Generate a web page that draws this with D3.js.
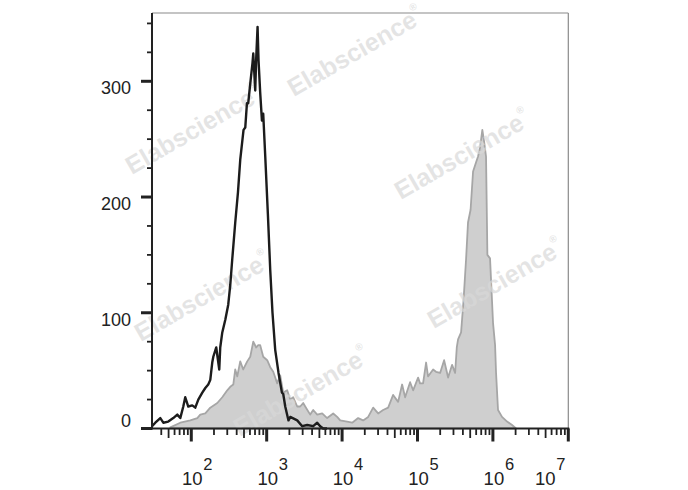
<!DOCTYPE html>
<html><head><meta charset="utf-8">
<script src="https://cdn.jsdelivr.net/npm/d3@7"></script>
<style>body{margin:0;background:#fff}svg{display:block}</style>
</head><body><svg id="c" width="688" height="490"></svg>
<script>
// log10 of fluorescence intensity and event counts
const blackLg = [1.48,1.523,1.589,1.629,1.695,1.761,1.814,1.854,1.894,1.920,1.960,2.013,2.053,2.093,2.146,2.186,2.225,2.252,2.278,2.292,2.331,2.371,2.384,2.411,2.451,2.490,2.517,2.543,2.583,2.619,2.649,2.693,2.716,2.738,2.755,2.782,2.812,2.822,2.848,2.861,2.879,2.892,2.914,2.937,2.954,2.981,3.016,3.047,3.077,3.113,3.157,3.202,3.219,3.246,3.289,3.312,3.405,3.471,3.537,3.617,3.670,3.709,3.749,3.80];
const blackCount = [2,5,9,5,6,9,12,9,19,27,19,20,18,25,31,35,38,42,57,62,70,51,70,83,94,107,124,146,178,204,232,258,260,281,281,298,316,324,292,320,347,318,290,266,272,235,185,137,100,68,48,31,30,19,7,10,7,2,3,2,5,2,0,0];
const grayLg = [1.722,1.854,1.987,2.080,2.119,2.186,2.252,2.345,2.411,2.477,2.517,2.557,2.583,2.610,2.649,2.689,2.742,2.782,2.822,2.861,2.888,2.914,2.954,3.007,3.047,3.087,3.140,3.179,3.219,3.272,3.312,3.352,3.405,3.444,3.484,3.511,3.577,3.617,3.670,3.736,3.802,3.882,3.935,3.975,4.067,4.134,4.213,4.279,4.346,4.412,4.478,4.544,4.611,4.677,4.743,4.796,4.836,4.902,4.942,5.008,5.034,5.074,5.114,5.140,5.207,5.246,5.300,5.353,5.406,5.459,5.499,5.521,5.538,5.578,5.591,5.611,5.644,5.670,5.704,5.737,5.777,5.803,5.830,5.860,5.883,5.909,5.927,5.962,6.002,6.029,6.042,6.068,6.121,6.188,6.254,6.307];
const grayCount = [1,5,7,9,12,13,18,22,27,33,36,38,51,45,58,51,58,62,75,70,72,72,62,59,53,49,39,46,31,33,25,27,19,19,22,19,12,16,12,13,9,13,10,7,6,5,9,7,10,18,13,16,18,29,23,38,27,40,33,44,39,39,57,45,51,49,48,59,44,55,48,70,77,83,94,111,146,178,189,222,230,235,243,258,248,235,150,147,91,72,48,16,10,6,3,0];
const yTickValues = [0,100,200,300];
const yMinorValues = [25,50,75,125,150,175,225,250,275,325,350];
const xDecades = [2,3,4,5,6,7];
const xExponents = ["2","3","4","5","6","7"];
const watermarkText = "Elabscience";

const svg = d3.select("#c");
const L = 152, R = 568.3, T = 13, B = 428.5;
const x = d3.scaleLinear().domain([1.479, 7]).range([L, R]);
const y = d3.scaleLinear().domain([0, 359]).range([B, T]);
const font = "'Liberation Sans', Arial, sans-serif";

// gray filled histogram
const gray = grayLg.map((g, i) => [g, grayCount[i]]);
svg.append("path").datum(gray)
  .attr("d", d3.area().x(d => x(d[0])).y0(B).y1(d => y(d[1])))
  .attr("fill", "#cfcfcf").attr("stroke", "#a6a6a6").attr("stroke-width", 1.8)
  .attr("stroke-linejoin", "round");

// watermarks
const wm = [[356,53],[194,131],[463,156],[496,285],[203,298],[302,393]];
wm.forEach(([cx, cy]) => {
  const t = svg.append("text")
    .attr("transform", `translate(${cx},${cy}) rotate(-30)`)
    .attr("text-anchor", "middle").attr("dominant-baseline", "middle")
    .attr("font-family", font).attr("font-weight", "bold").attr("font-size", 25)
    .attr("fill", "#d9d9d9").attr("fill-opacity", 0.7);
  t.append("tspan").text(watermarkText);
  t.append("tspan").attr("font-size", 10).attr("dy", -11).text("®");
});

// black histogram line
const black = blackLg.map((g, i) => [g, blackCount[i]]);
svg.append("path").datum(black)
  .attr("d", d3.line().x(d => x(d[0])).y(d => y(d[1])))
  .attr("fill", "none").attr("stroke", "#1c1c1c").attr("stroke-width", 2.4)
  .attr("stroke-linejoin", "round");

// frame
svg.append("line").attr("x1", L).attr("x2", R).attr("y1", T).attr("y2", T)
  .attr("stroke", "#8a8a8a").attr("stroke-width", 1.2);
svg.append("line").attr("x1", R).attr("x2", R).attr("y1", T).attr("y2", B)
  .attr("stroke", "#8a8a8a").attr("stroke-width", 1.2);

// x axis ticks
const xMinor = [], xMid = [];
for (let d = 1; d <= 6; d++) for (let k = 2; k <= 9; k++) {
  const v = d + Math.log10(k);
  if (v >= x.domain()[0] && v <= 7) (k === 5 ? xMid : xMinor).push(v);
}
function xTicks(vals, len, w) {
  svg.append("g").selectAll("line").data(vals).join("line")
    .attr("x1", d => x(d)).attr("x2", d => x(d)).attr("y1", B).attr("y2", B + len)
    .attr("stroke", "#222").attr("stroke-width", w);
}
xTicks(xMinor, 6.5, 1.8);
xTicks(xMid, 9.5, 1.8);
xTicks(xDecades, 13, 3);

// y axis ticks
function yTicks(vals, len, w) {
  svg.append("g").selectAll("line").data(vals).join("line")
    .attr("x1", L - len).attr("x2", L).attr("y1", d => y(d)).attr("y2", d => y(d))
    .attr("stroke", "#222").attr("stroke-width", w);
}
yTicks(yMinorValues, 5, 1.8);
yTicks(yTickValues, 11, 3);

// axis lines
svg.append("line").attr("x1", L).attr("x2", L).attr("y1", T).attr("y2", B + 1)
  .attr("stroke", "#222").attr("stroke-width", 2);
svg.append("line").attr("x1", L - 1).attr("x2", R + 1).attr("y1", B).attr("y2", B)
  .attr("stroke", "#222").attr("stroke-width", 2);

// y labels
svg.append("g").selectAll("text").data(yTickValues).join("text")
  .attr("x", 131).attr("y", d => Math.min(y(d) + 8, y(0) - 6))
  .attr("text-anchor", "end").attr("dominant-baseline", "middle")
  .attr("font-family", font).attr("font-size", 18).attr("fill", "#222")
  .text(d => d);

// x labels: 10 with superscript exponent
xDecades.forEach((d, i) => {
  const shift = i === xDecades.length - 1 ? -23 : 1;
  svg.append("text").attr("x", x(d) + shift).attr("y", 485)
    .attr("text-anchor", "middle").attr("font-family", font).attr("font-size", 18.5)
    .attr("fill", "#222").text("10");
  svg.append("text").attr("x", x(d) + shift + 11).attr("y", 470)
    .attr("text-anchor", "start").attr("font-family", font).attr("font-size", 16.5)
    .attr("fill", "#222").text(xExponents[i]);
});
</script></body></html>
